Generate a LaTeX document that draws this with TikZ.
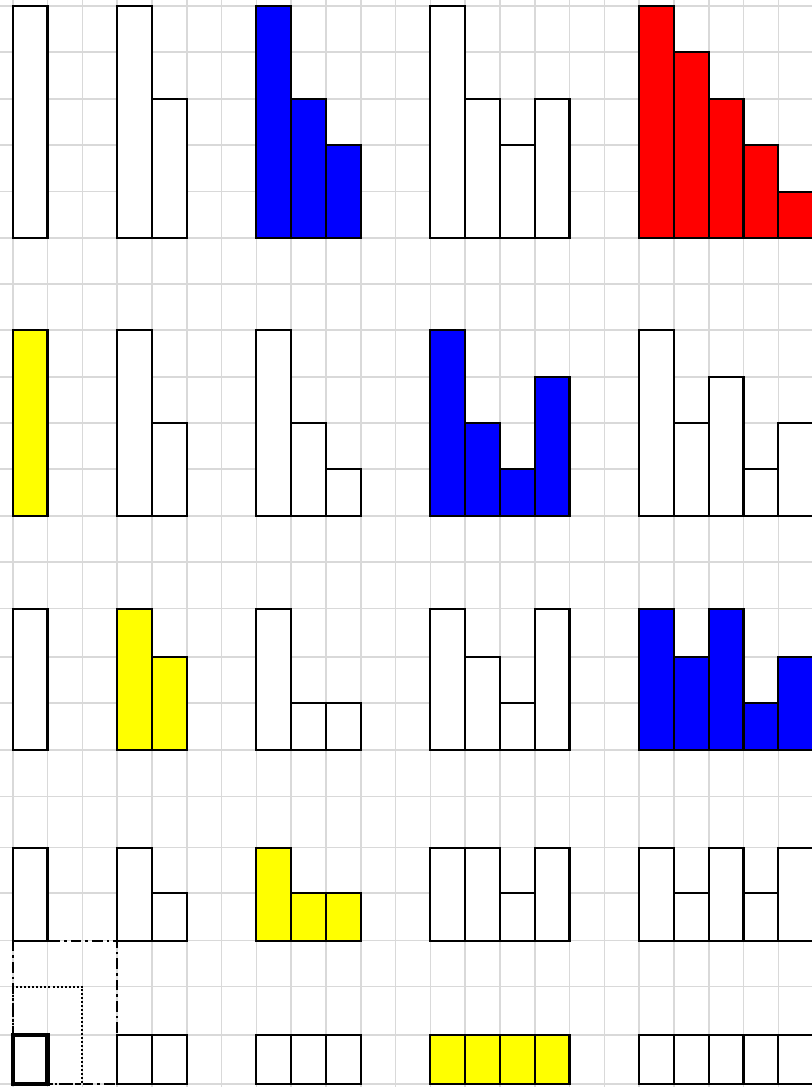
\documentclass[tikz,border=0pt]{standalone}
\usetikzlibrary{calc}
\definecolor{gridgray}{RGB}{217,217,217}
\definecolor{pureblue}{RGB}{0,0,255}
\definecolor{purered}{RGB}{255,0,0}
\definecolor{pureyellow}{RGB}{255,255,0}
\def\YL{{6,52.3,99,145.3,191.7,238,284,330.3,377.3,423.3,469.3,516,562.3,608.7,657.3,703.3,750,796.7,847.7,893.3,940.7,986.7,1035,1084}}
\newcommand\barcell[5][]{%
  \pgfmathsetmacro\xa{12.7+34.8*#2}%
  \pgfmathsetmacro\xb{\xa+34.8}%
  \pgfmathsetmacro\ya{1087-\YL[#3]}%
  \pgfmathsetmacro\yb{1087-\YL[#3-#4]}%
  \draw[barbox,fill=#5,#1] (\xa,\ya) rectangle (\xb,\yb);%
}
\tikzset{
  gridline/.style={draw=gridgray,line width=1.2pt},
  barbox/.style={draw=black,line width=1.7pt,line join=miter},
}
\begin{document}
\begin{tikzpicture}[x=0.75pt,y=0.75pt]
\useasboundingbox (0,0) rectangle (812,1087);
\fill[white] (0,0) rectangle (812,1087);
% grid
\foreach \k in {0,...,22}{
  \pgfmathsetmacro\gx{12.7+34.8*\k}
  \draw[gridline] (\gx,0) -- (\gx,1087);
}
\foreach \i in {0,...,23}{
  \pgfmathsetmacro\gy{1087-\YL[\i]}
  \draw[gridline] (0,\gy) -- (812,\gy);
}
% bars: column / base line / height / fill
\foreach \c/\b/\h/\f in {%
  0/5/5/white,%
  3/5/5/white, 4/5/3/white,%
  7/5/5/pureblue, 8/5/3/pureblue, 9/5/2/pureblue,%
  12/5/5/white, 13/5/3/white, 14/5/2/white, 15/5/3/white,%
  18/5/5/purered, 19/5/4/purered, 20/5/3/purered, 21/5/2/purered, 22/5/1/purered,%
  0/11/4/pureyellow,%
  3/11/4/white, 4/11/2/white,%
  7/11/4/white, 8/11/2/white, 9/11/1/white,%
  12/11/4/pureblue, 13/11/2/pureblue, 14/11/1/pureblue, 15/11/3/pureblue,%
  18/11/4/white, 19/11/2/white, 20/11/3/white, 21/11/1/white, 22/11/2/white,%
  0/16/3/white,%
  3/16/3/pureyellow, 4/16/2/pureyellow,%
  7/16/3/white, 8/16/1/white, 9/16/1/white,%
  12/16/3/white, 13/16/2/white, 14/16/1/white, 15/16/3/white,%
  18/16/3/pureblue, 19/16/2/pureblue, 20/16/3/pureblue, 21/16/1/pureblue, 22/16/2/pureblue,%
  0/20/2/white,%
  3/20/2/white, 4/20/1/white,%
  7/20/2/pureyellow, 8/20/1/pureyellow, 9/20/1/pureyellow,%
  12/20/2/white, 13/20/2/white, 14/20/1/white, 15/20/2/white,%
  18/20/2/white, 19/20/1/white, 20/20/2/white, 21/20/1/white, 22/20/2/white,%
  3/23/1/white, 4/23/1/white,%
  7/23/1/white, 8/23/1/white, 9/23/1/white,%
  12/23/1/pureyellow, 13/23/1/pureyellow, 14/23/1/pureyellow, 15/23/1/pureyellow,%
  18/23/1/white, 19/23/1/white, 20/23/1/white, 21/23/1/white, 22/23/1/white}{%
  \barcell{\c}{\b}{\h}{\f}%
}
% bottom-left outlines
\pgfmathsetmacro\ra{1087-\YL[20]}
\pgfmathsetmacro\rb{1087-\YL[21]}
\pgfmathsetmacro\rc{1087-\YL[22]}
\pgfmathsetmacro\rd{1087-\YL[23]}
\coordinate (dd1) at (12.7,\ra);
\coordinate (dd2) at (117.1,\rd);
\coordinate (dt1) at (12.7,\rb);
\coordinate (dt2) at (82.3,\rd);
\coordinate (sq1) at (12.7,\rc);
\coordinate (sq2) at (47.5,\rd);
\draw[line width=1.7pt,dash pattern=on 8pt off 3pt on 2pt off 3pt] (dd1) rectangle (dd2);
\draw[line width=1.5pt,dash pattern=on 1.5pt off 1.5pt] (dt1) rectangle (dt2);
\draw[line width=3.2pt] (sq1) rectangle (sq2);
\end{tikzpicture}
\end{document}
